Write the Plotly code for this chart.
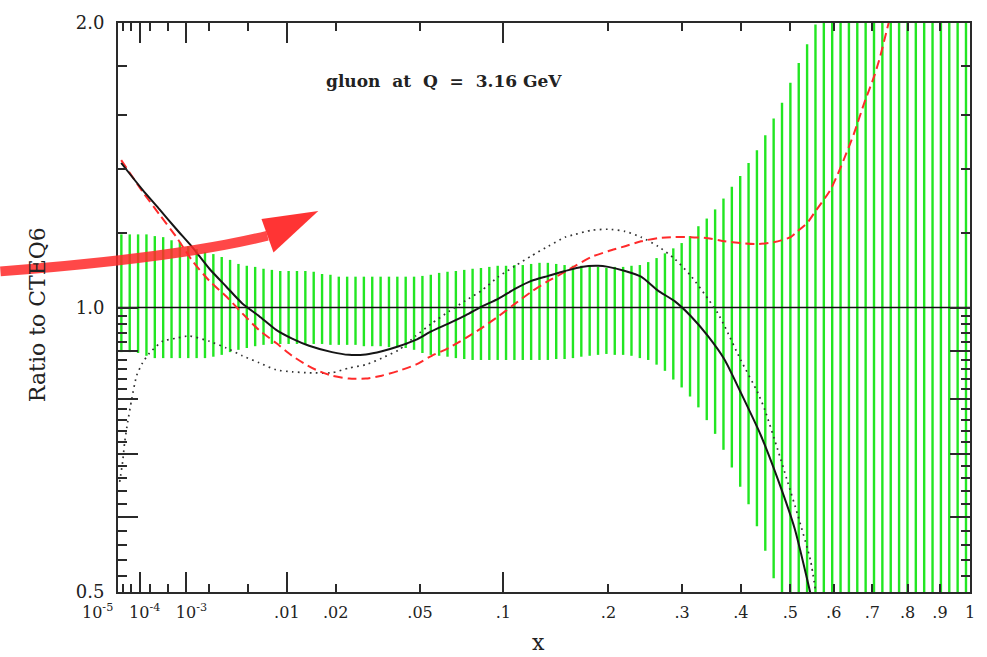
import numpy as np
import plotly.graph_objects as go

# ---------------------------------------------------------------------------
# Gluon PDF at Q = 3.16 GeV, shown as a ratio to CTEQ6
# ---------------------------------------------------------------------------

# Uncertainty band: upper / lower ratio of each vertical bar (left to right)
band_hi = [
    1.195, 1.195, 1.195, 1.195,
    1.190, 1.187, 1.178, 1.173, 1.161, 1.153,
    1.145, 1.139, 1.131, 1.123, 1.112,
    1.107, 1.104, 1.099, 1.096, 1.093,
    1.093, 1.093, 1.093, 1.091, 1.085,
    1.083, 1.078, 1.078, 1.078, 1.078,
    1.078, 1.078, 1.078, 1.078, 1.078,
    1.078, 1.080, 1.083, 1.088, 1.091,
    1.093, 1.096, 1.099, 1.101, 1.104,
    1.107, 1.107, 1.109, 1.109, 1.112,
    1.115, 1.115, 1.112, 1.109, 1.107,
    1.107, 1.107, 1.104, 1.101, 1.104,
    1.104, 1.107, 1.109, 1.117, 1.128,
    1.141, 1.155, 1.170, 1.190, 1.219,
    1.242, 1.270, 1.304, 1.342, 1.378,
    1.422, 1.467, 1.521, 1.585, 1.647,
    1.729, 1.814, 1.899, 1.993,
    2.5, 2.5, 2.5, 2.5, 2.5, 2.5, 2.5, 2.5, 2.5,
    2.5, 2.5, 2.5, 2.5, 2.5, 2.5, 2.5, 2.5, 2.5,
]
band_lo = [
    0.897, 0.897, 0.895, 0.889,
    0.884, 0.884, 0.884, 0.884, 0.884, 0.884,
    0.884, 0.887, 0.891, 0.897, 0.902,
    0.906, 0.910, 0.913, 0.915, 0.915,
    0.915, 0.915, 0.915, 0.915, 0.915,
    0.913, 0.913, 0.913, 0.913, 0.910,
    0.910, 0.910, 0.908, 0.908, 0.906,
    0.902, 0.895, 0.891, 0.889, 0.887,
    0.884, 0.882, 0.880, 0.880, 0.880,
    0.880, 0.880, 0.880, 0.880, 0.880,
    0.880, 0.880, 0.882, 0.882, 0.884,
    0.887, 0.889, 0.891, 0.893, 0.891,
    0.891, 0.889, 0.884, 0.880, 0.870,
    0.857, 0.839, 0.823, 0.805, 0.784,
    0.760, 0.735, 0.707, 0.677, 0.646,
    0.619, 0.587, 0.553, 0.517,
    0.4, 0.4, 0.4, 0.4, 0.4, 0.4, 0.4, 0.4, 0.4, 0.4, 0.4, 0.4,
    0.4, 0.4, 0.4, 0.4, 0.4, 0.4, 0.4, 0.4, 0.4, 0.4, 0.4,
]

# Solid black fit
solid_x = [1.6e-5, 1.235e-4, 3.32e-4, 6.98e-4, 1.226e-3, 2.024e-3, 3.11e-3,
           4.434e-3, 6.203e-3, 8.391e-3, 0.01087, 0.01400, 0.01910, 0.02359,
           0.02872, 0.03419, 0.04072, 0.04802, 0.05566, 0.06461, 0.07447,
           0.08463, 0.09639, 0.1092, 0.1222, 0.1372, 0.1533, 0.1696, 0.1881,
           0.1996, 0.2202, 0.2409, 0.2642, 0.2890, 0.3137, 0.3414, 0.3707,
           0.3998, 0.4383, 0.4728, 0.5092, 0.5450]
solid_y = [1.422, 1.332, 1.270, 1.210, 1.158, 1.099, 1.052,
           1.010, 0.979, 0.947, 0.927, 0.911, 0.897, 0.891,
           0.892, 0.899, 0.910, 0.924, 0.944, 0.962, 0.981,
           1.002, 1.022, 1.047, 1.067, 1.080, 1.093, 1.104, 1.107,
           1.104, 1.093, 1.078, 1.042, 1.015, 0.979, 0.933, 0.880,
           0.813, 0.733, 0.659, 0.584, 0.498]

# Dotted black fit
dotted_x = [1.29e-5, 1.947e-5, 2.49e-5, 3.47e-5, 5.15e-5, 7.91e-5, 1.235e-4,
            1.932e-4, 3.84e-4, 6.98e-4, 1.112e-3, 2.024e-3, 3.11e-3, 4.434e-3,
            6.203e-3, 8.391e-3, 0.01087, 0.01400, 0.01910, 0.02359, 0.02872,
            0.03419, 0.04072, 0.04802, 0.05566, 0.06461, 0.07447, 0.08463,
            0.09639, 0.1092, 0.1222, 0.1372, 0.1533, 0.1634, 0.1803, 0.1996,
            0.2202, 0.2409, 0.2642, 0.2890, 0.3137, 0.3414, 0.3585, 0.3707,
            0.3998, 0.4324, 0.4463, 0.4728, 0.4940, 0.5158, 0.5450, 0.5565]
dotted_y = [0.654, 0.687, 0.720, 0.756, 0.799, 0.847, 0.874,
            0.895, 0.921, 0.928, 0.933, 0.921, 0.906, 0.889,
            0.874, 0.859, 0.855, 0.853, 0.853, 0.863, 0.870,
            0.884, 0.902, 0.933, 0.962, 0.990, 1.017, 1.042,
            1.078, 1.107, 1.134, 1.161, 1.187, 1.195, 1.207, 1.210,
            1.204, 1.187, 1.161, 1.125, 1.080, 1.022, 0.986, 0.955,
            0.880, 0.813, 0.780, 0.708, 0.654, 0.604, 0.540, 0.502]

# Red dashed fit
red_x = [1.6e-5, 1.235e-4, 3.32e-4, 6.98e-4, 1.226e-3, 2.024e-3, 3.11e-3,
         4.434e-3, 6.203e-3, 8.391e-3, 0.01087, 0.01341, 0.01544, 0.01910,
         0.02359, 0.02872, 0.03419, 0.04072, 0.04802, 0.05566, 0.06461,
         0.07447, 0.08463, 0.09639, 0.1092, 0.1222, 0.1372, 0.1533, 0.1634,
         0.1803, 0.1996, 0.2202, 0.2409, 0.2642, 0.2890, 0.3137, 0.3414,
         0.3707, 0.3998, 0.4324, 0.4666, 0.5005, 0.5158, 0.5382, 0.5542,
         0.5921, 0.6167, 0.6522, 0.6783, 0.7052, 0.7217, 0.7412, 0.7496]
red_y = [1.432, 1.326, 1.254, 1.187, 1.120, 1.067, 1.027,
         0.986, 0.946, 0.917, 0.889, 0.870, 0.859, 0.847,
         0.841, 0.841, 0.847, 0.857, 0.870, 0.889, 0.906,
         0.928, 0.951, 0.979, 1.010, 1.039, 1.067, 1.091, 1.107,
         1.131, 1.147, 1.161, 1.175, 1.184, 1.187, 1.187, 1.184,
         1.175, 1.170, 1.167, 1.173, 1.187, 1.204, 1.230, 1.260,
         1.332, 1.405, 1.532, 1.647, 1.758, 1.845, 1.974, 2.03]

# Axis labelling
x_label_vals = [1e-4, 1e-3, 0.01, 0.02, 0.05, 0.1, 0.2, 0.3, 0.4, 0.5,
                0.6, 0.7, 0.8, 0.9, 1.0]
x_label_text = ["&nbsp;&nbsp;10<sup>-4</sup>", "&nbsp;&nbsp;10<sup>-3</sup>",
                ".01", ".02", ".05", ".1", ".2", ".3", ".4", ".5",
                ".6", ".7", ".8", ".9", "1"]
x_short_ticks = [2e-5, 5e-5, 2e-4, 5e-4, 2e-3, 5e-3]
x_long_ticks = [1e-5, 1e-4, 1e-3, 1e-2, 1e-1, 1.0]

y_major_vals = [0.5, 0.6, 0.7, 0.8, 0.9, 1.0, 2.0]
y_major_text = ["0.5", "", "", "", "", "1.0", "2.0"]
y_minor_vals = [round(0.5 + 0.02 * k, 2) for k in range(1, 25) if k % 5] + \
               [1.2, 1.4, 1.6, 1.8]

X_MIN, X_MAX = 1e-5, 1.0
Y_MIN, Y_MAX = 0.5, 2.0


def xs(v):
    """The x axis is linear in x**(1/3)."""
    return np.cbrt(np.asarray(v, dtype=float))


SERIF = "DejaVu Serif"
AXIS_COL = "#2a2a2a"

fig = go.Figure()

# Uncertainty bars, evenly spaced along the x**(1/3) axis
bar_pos = np.linspace(0.0254, 0.9954, len(band_hi))
bx, by = [], []
for u, lo, hi in zip(bar_pos, band_lo, band_hi):
    bx += [u, u, None]
    by += [lo, hi, None]
fig.add_trace(go.Scatter(x=bx, y=by, mode="lines",
                         line=dict(color="#22e622", width=2.4),
                         hoverinfo="skip", showlegend=False))

# Reference line at ratio 1
fig.add_trace(go.Scatter(x=xs([X_MIN, X_MAX]), y=[1.0, 1.0], mode="lines",
                         line=dict(color="#111111", width=1.6),
                         showlegend=False))

fig.add_trace(go.Scatter(x=xs(dotted_x), y=dotted_y, mode="lines",
                         line=dict(color="#333333", width=1.7,
                                   dash="1.7px,4.3px", shape="spline",
                                   smoothing=0.6),
                         showlegend=False))
fig.add_trace(go.Scatter(x=xs(red_x), y=red_y, mode="lines",
                         line=dict(color="#ff2a2a", width=2,
                                   dash="9px,5px", shape="spline",
                                   smoothing=0.6),
                         showlegend=False))
fig.add_trace(go.Scatter(x=xs(solid_x), y=solid_y, mode="lines",
                         line=dict(color="#161616", width=2,
                                   shape="spline", smoothing=0.6),
                         showlegend=False))

# Helper trace so the overlay axis (long decade ticks) is drawn
fig.add_trace(go.Scatter(x=[None], y=[None], xaxis="x2", yaxis="y",
                         showlegend=False, hoverinfo="skip"))

x_range = [float(xs(X_MIN)), float(xs(X_MAX))]

fig.update_layout(
    width=987, height=657,
    margin=dict(l=118, r=14, t=17, b=65),
    paper_bgcolor="white", plot_bgcolor="white",
    font=dict(family=SERIF, color="#222222"),
    xaxis=dict(
        range=x_range, showgrid=False, zeroline=False,
        showline=True, linecolor=AXIS_COL, linewidth=2, mirror="ticks",
        tickmode="array", tickvals=xs(x_label_vals), ticktext=x_label_text,
        ticks="inside", ticklen=8, tickwidth=1.5, tickcolor=AXIS_COL,
        tickangle=0, tickfont=dict(family=SERIF, size=16, color="#222"),
        ticklabelstandoff=5,
        minor=dict(tickmode="array", tickvals=xs(x_short_ticks),
                   ticks="inside", ticklen=8, tickwidth=1.5,
                   tickcolor=AXIS_COL, showgrid=False),
    ),
    xaxis2=dict(
        range=x_range, overlaying="x", anchor="y", side="bottom",
        showgrid=False, zeroline=False, showline=False, mirror="ticks",
        tickmode="array", tickvals=xs(x_long_ticks),
        ticks="inside", ticklen=20, tickwidth=1.5, tickcolor=AXIS_COL,
        showticklabels=False,
    ),
    yaxis=dict(
        type="log", range=[np.log10(Y_MIN), np.log10(Y_MAX)],
        showgrid=False, zeroline=False,
        showline=True, linecolor=AXIS_COL, linewidth=2, mirror="ticks",
        tickmode="array", tickvals=y_major_vals, ticktext=y_major_text,
        ticks="inside", ticklen=20, tickwidth=1.5, tickcolor=AXIS_COL,
        tickfont=dict(family=SERIF, size=18, color="#222"),
        ticklabelstandoff=8,
        minor=dict(tickmode="array", tickvals=y_minor_vals,
                   ticks="inside", ticklen=9, tickwidth=1.5,
                   tickcolor=AXIS_COL, showgrid=False),
    ),
)

annotations = [
    dict(text="<b>gluon&nbsp; at&nbsp; Q&nbsp; =&nbsp; 3.16 GeV</b>",
         x=0.3825, y=0.8974, xref="paper", yref="paper",
         xanchor="center", yanchor="middle", showarrow=False,
         font=dict(family=SERIF, size=17, color="#222")),
    dict(text="Ratio to CTEQ6", textangle=-90,
         x=-0.0936, y=0.487, xref="paper", yref="paper",
         xanchor="center", yanchor="middle", showarrow=False,
         font=dict(family=SERIF, size=22, color="#222")),
    dict(text="x", x=0.4936, y=-0.088, xref="paper", yref="paper",
         xanchor="center", yanchor="middle", showarrow=False,
         font=dict(family=SERIF, size=22, color="#222")),
    dict(text="10<sup>-5</sup>", x=-0.0246, y=-0.0348,
         xref="paper", yref="paper", xanchor="center", yanchor="middle",
         showarrow=False, font=dict(family=SERIF, size=16, color="#222")),
]
fig.update_layout(annotations=annotations)

# Big red pointer arrow drawn over the plot
fig.update_layout(shapes=[
    dict(type="path", xref="paper", yref="paper",
         path="M -0.1380,0.5635 Q 0.0702,0.5870 0.1754,0.6261",
         line=dict(color="rgba(255,40,40,0.85)", width=10)),
    dict(type="path", xref="paper", yref="paper",
         path="M 0.1684,0.6557 L 0.2351,0.6696 L 0.1825,0.5965 Z",
         fillcolor="rgba(255,45,45,0.97)", line=dict(width=0)),
])

fig.write_html("out.html")
